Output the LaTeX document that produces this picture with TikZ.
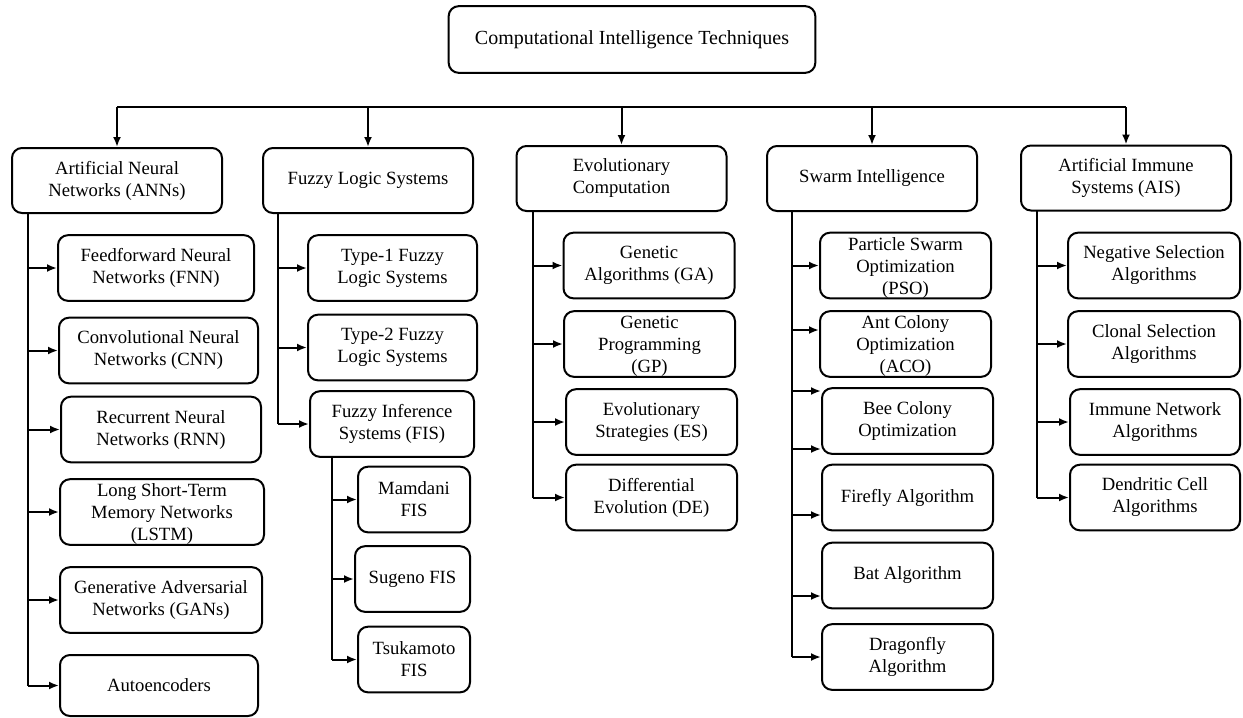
\documentclass[tikz,border=0pt]{standalone}
\usepackage{fontspec}
\setmainfont{Liberation Serif}
\usetikzlibrary{arrows.meta}

\tikzset{
  box/.style={draw, line width=1.2pt, rounded corners=6pt, align=center,
    inner sep=2pt, font=\fontsize{11.2}{13.2}\selectfont},
  l1/.style={box, minimum width=126pt, minimum height=39pt},
  leaf/.style={box, minimum height=39.4pt},
  line/.style={line width=1.2pt},
  arr/.style={line width=1.2pt, -{Latex[length=6pt,width=4.8pt]}},
}
% three lines that run over the box edge
\newcommand{\tri}[3]{\smash{\raisebox{-4pt}{\begin{tabular}{@{}c@{}}#1\\#2\\#3\end{tabular}}}}

\begin{document}
\begin{tikzpicture}[x=0.6pt,y=-0.6pt]
    \useasboundingbox (0,0) rectangle (1243,717);

    \node[box, font=\fontsize{12}{14}\selectfont, minimum width=220pt,
          minimum height=40pt] (cit) at (632,39.5)
          {Computational Intelligence Techniques};

    % first level
    \node[l1] (ann) at (117,180.5) {Artificial Neural\\Networks (ANNs)};
    \node[l1] (fls) at (368,180.5) {Fuzzy Logic Systems};
    \node[l1] (evo) at (621.5,178.5) {Evolutionary\\Computation};
    \node[l1] (swi) at (872,178.5) {Swarm Intelligence};
    \node[l1] (ais) at (1126,178) {Artificial Immune\\Systems (AIS)};

    \coordinate (bus) at (0,107);
    \draw[line] (bus -| ann) -- (bus -| ais);
    \draw[arr] (bus -| ann) -- (ann.north);
    \draw[arr] (bus -| fls) -- (fls.north);
    \draw[arr] (bus -| evo) -- (evo.north);
    \draw[arr] (bus -| swi) -- (swi.north);
    \draw[arr] (bus -| ais) -- (ais.north);

    % neural networks
    \node[leaf, minimum width=117.6pt] (fnn) at (156,268) {Feedforward Neural\\Networks (FNN)};
    \node[leaf, minimum width=119.4pt] (cnn) at (158.5,350.5) {Convolutional Neural\\Networks (CNN)};
    \node[leaf, minimum width=120pt] (rnn) at (161,429.5) {Recurrent Neural\\Networks (RNN)};
    \node[leaf, minimum width=122.4pt] (lstm) at (162,512) {\tri{Long Short-Term}{Memory Networks}{(LSTM)}};
    \node[leaf, minimum width=121.2pt] (gan) at (161,600) {Generative Adversarial\\Networks (GANs)};
    \node[leaf, minimum width=118.8pt, minimum height=36.6pt] (aenc) at (159,685.5) {Autoencoders};

    \coordinate (annT) at (28,213);
    \draw[line] (annT) -- (annT |- aenc.west);
    \draw[arr] (annT |- fnn.west) -- (fnn.west);
    \draw[arr] (annT |- cnn.west) -- (cnn.west);
    \draw[arr] (annT |- rnn.west) -- (rnn.west);
    \draw[arr] (annT |- lstm.west) -- (lstm.west);
    \draw[arr] (annT |- gan.west) -- (gan.west);
    \draw[arr] (annT |- aenc.west) -- (aenc.west);

    % fuzzy logic
    \node[leaf, minimum width=101.4pt] (tone) at (392.5,268) {Type-1 Fuzzy\\Logic Systems};
    \node[leaf, minimum width=101.4pt] (ttwo) at (392.5,347.5) {Type-2 Fuzzy\\Logic Systems};
    \node[leaf, minimum width=98.4pt] (fis) at (392,424) {Fuzzy Inference\\Systems (FIS)};
    \node[leaf, minimum width=67.2pt] (mam) at (414,499.5) {Mamdani\\FIS};
    \node[leaf, minimum width=69pt] (sug) at (412.5,579) {Sugeno FIS};
    \node[leaf, minimum width=67.2pt] (tsu) at (414,659.5) {Tsukamoto\\FIS};

    \coordinate (flsT) at (278,213);
    \draw[line] (flsT) -- (flsT |- fis.west);
    \draw[arr] (flsT |- tone.west) -- (tone.west);
    \draw[arr] (flsT |- ttwo.west) -- (ttwo.west);
    \draw[arr] (flsT |- fis.west) -- (fis.west);

    \coordinate (fisT) at (332,456);
    \draw[line] (fisT) -- (fisT |- tsu.west);
    \draw[arr] (fisT |- mam.west) -- (mam.west);
    \draw[arr] (fisT |- sug.west) -- (sug.west);
    \draw[arr] (fisT |- tsu.west) -- (tsu.west);

    % evolutionary computation
    \node[leaf, minimum width=102.6pt] (ga) at (649,265.5) {Genetic\\Algorithms (GA)};
    \node[leaf, minimum width=102.6pt] (gp) at (649.5,344) {\tri{Genetic}{Programming}{(GP)}};
    \node[leaf, minimum width=102.6pt] (es) at (651.5,422) {Evolutionary\\Strategies (ES)};
    \node[leaf, minimum width=102.6pt] (de) at (651.5,497.5) {Differential\\Evolution (DE)};

    \coordinate (evoT) at (533,211);
    \draw[line] (evoT) -- (evoT |- de.west);
    \draw[arr] (evoT |- ga.west) -- (ga.west);
    \draw[arr] (evoT |- gp.west) -- (gp.west);
    \draw[arr] (evoT |- es.west) -- (es.west);
    \draw[arr] (evoT |- de.west) -- (de.west);

    % swarm intelligence
    \node[leaf, minimum width=102.6pt] (pso) at (905.5,265.5) {\tri{Particle Swarm}{Optimization}{(PSO)}};
    \node[leaf, minimum width=102.6pt] (aco) at (905.5,344) {\tri{Ant Colony}{Optimization}{(ACO)}};
    \node[leaf, minimum width=102.6pt] (bco) at (907.5,421) {Bee Colony\\Optimization};
    \node[leaf, minimum width=102.6pt] (ffa) at (907.5,497.5) {Firefly Algorithm};
    \node[leaf, minimum width=102.6pt] (bat) at (907.5,575.5) {Bat Algorithm};
    \node[leaf, minimum width=102.6pt] (dfa) at (907.5,657) {Dragonfly\\Algorithm};

    \coordinate (acoIn) at ([yshift=8.4pt]aco.west);
    \coordinate (bcoInA) at ([yshift=18pt]bco.west);
    \coordinate (bcoInB) at ([yshift=-16.8pt]bco.west);
    \coordinate (ffaIn) at ([yshift=-10.5pt]ffa.west);
    \coordinate (batIn) at ([yshift=-12.3pt]bat.west);

    \coordinate (swiT) at (792,211);
    \draw[line] (swiT) -- (swiT |- dfa.west);
    \draw[arr] (swiT |- pso.west) -- (pso.west);
    \draw[arr] (swiT |- acoIn) -- (acoIn);
    \draw[arr] (swiT |- bcoInA) -- (bcoInA);
    \draw[arr] (swiT |- bcoInB) -- (bcoInB);
    \draw[arr] (swiT |- ffaIn) -- (ffaIn);
    \draw[arr] (swiT |- batIn) -- (batIn);
    \draw[arr] (swiT |- dfa.west) -- (dfa.west);

    % immune systems
    \node[leaf, minimum width=103.2pt] (nsa) at (1154,265.5) {Negative Selection\\Algorithms};
    \node[leaf, minimum width=103.2pt] (csa) at (1154,344) {Clonal Selection\\Algorithms};
    \node[leaf, minimum width=102pt] (ina) at (1155,422) {Immune Network\\Algorithms};
    \node[leaf, minimum width=102pt] (dca) at (1155,497.5) {Dendritic Cell\\Algorithms};

    \coordinate (aisT) at (1037,210);
    \draw[line] (aisT) -- (aisT |- dca.west);
    \draw[arr] (aisT |- nsa.west) -- (nsa.west);
    \draw[arr] (aisT |- csa.west) -- (csa.west);
    \draw[arr] (aisT |- ina.west) -- (ina.west);
    \draw[arr] (aisT |- dca.west) -- (dca.west);

\end{tikzpicture}
\end{document}
